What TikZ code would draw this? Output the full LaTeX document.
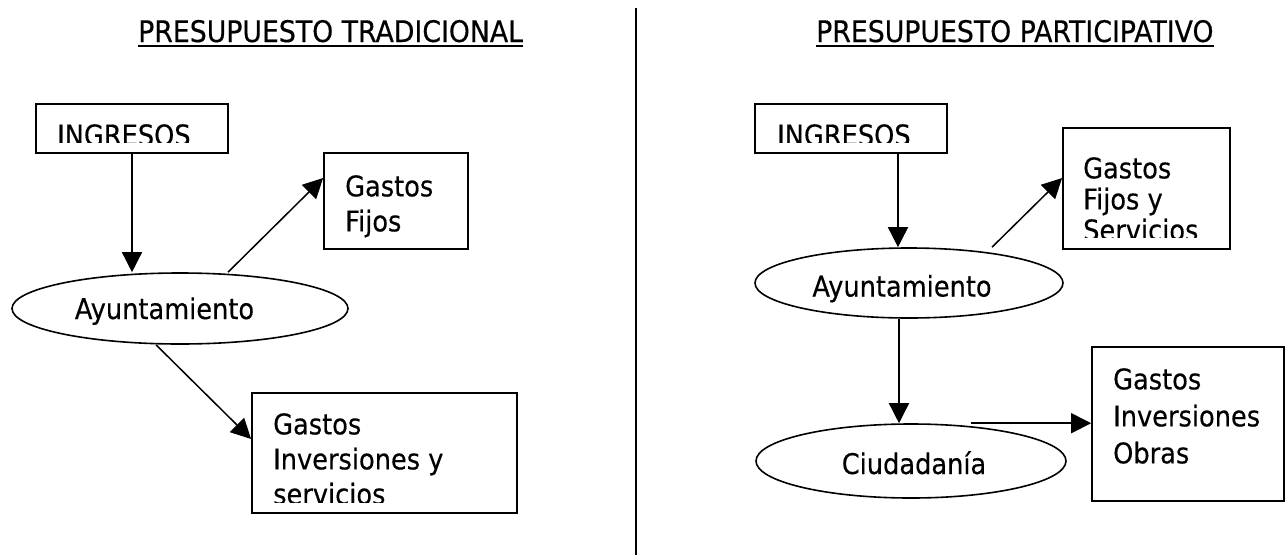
\documentclass[tikz,border=0pt]{standalone}
\usepackage{fontspec}
\setmainfont{DejaVu Sans}[FakeStretch=0.9,FakeBold=0.4]
\usetikzlibrary{arrows.meta,shapes.geometric}
\begin{document}
\begin{tikzpicture}[x=1pt,y=-1pt,
    caja/.style={draw,line width=1.7pt,inner sep=0pt},
    elipse/.style={draw,ellipse,line width=1.6pt,inner sep=0pt},
    flecha/.style={line width=1.5pt,-{Triangle[length=20pt,width=20pt]}},
    txt/.style={inner sep=0pt,align=left,font=\fontsize{28.5}{35}\selectfont},
    titulo/.style={inner sep=0pt,anchor=base west,font=\fontsize{29.7}{36}\selectfont}]

\def\GROSOR{1.6pt}
	\useasboundingbox (0,0) rectangle (1288,555);
	\draw[line width=\GROSOR] (636,8) -- (636,555);

	\node[titulo] (titL) at (138,42) {PRESUPUESTO TRADICIONAL};
	\node[titulo] (titR) at (816,42) {PRESUPUESTO PARTICIPATIVO};
	\draw[line width=\GROSOR] ([yshift=-4pt]titL.base west) -- ([yshift=-4pt]titL.base east);
	\draw[line width=\GROSOR] ([yshift=-4pt]titR.base west) -- ([yshift=-4pt]titR.base east);

	% tradicional
	\begin{scope}
		\clip (36,104) rectangle (228,142.5);
		\node[txt,anchor=north west] (ingL-t) at (57,124) {INGRESOS};
	\end{scope}
	\begin{scope}
		\clip (252,393) rectangle (517,502.3);
		\node[txt,anchor=north west] (invL-t) at (273,413) {Gastos\\Inversiones y\\servicios};
	\end{scope}
	\node[txt,anchor=north west] (fijosL-t) at (345,175) {Gastos\\Fijos};
	\node[txt,anchor=base] (aytoL-t) at (164.5,319) {Ayuntamiento};

	\node[caja,minimum width=192pt,minimum height=49pt] (ingL) at (132,128.5) {};
	\node[caja,minimum width=144pt,minimum height=96pt] (fijosL) at (396,201) {};
	\node[caja,minimum width=265pt,minimum height=120pt] (invL) at (384.5,453) {};
	\node[elipse,minimum width=336pt,minimum height=71pt] (aytoL) at (180,308.5) {};

	\draw[flecha] (ingL.south) -- (ingL.south |- aytoL.north);
	\draw[flecha] ([xshift=48pt]aytoL.north) -- ([yshift=23pt]fijosL.west);
	\draw[flecha] ([xshift=-24pt]aytoL.south) -- ([yshift=14pt]invL.west);

	% participativo
	\begin{scope}
		\clip (755,104) rectangle (947,142.5);
		\node[txt,anchor=north west] (ingR-t) at (777,124) {INGRESOS};
	\end{scope}
	\begin{scope}
		\clip (1063,128) rectangle (1230,237.8);
		\node[txt,anchor=north west,font=\fontsize{28.5}{31}\selectfont] (fijosR-t) at (1083,157) {Gastos\\Fijos y\\Servicios};
	\end{scope}
	\node[txt,anchor=north west,font=\fontsize{28.5}{37}\selectfont] (obras-t) at (1113,368) {Gastos\\Inversiones\\Obras};
	\node[txt,anchor=base] (aytoR-t) at (902,296.5) {Ayuntamiento};
	\node[txt,anchor=base] (ciud-t) at (914,474) {Ciudadanía};

	\node[caja,minimum width=192pt,minimum height=49pt] (ingR) at (851,128.5) {};
	\node[caja,minimum width=167pt,minimum height=121pt] (fijosR) at (1146.5,188.5) {};
	\node[caja,minimum width=192pt,minimum height=154pt] (obras) at (1188,424) {};
	\node[elipse,minimum width=308pt,minimum height=70pt] (aytoR) at (909,283) {};
	\node[elipse,minimum width=310pt,minimum height=74pt] (ciud) at (911,461) {};

	\draw[flecha] ([xshift=47pt]ingR.south) -- ([xshift=47pt]ingR.south |- aytoR.north);
	\draw[flecha] ([xshift=83pt]aytoR.north) -- ([yshift=10.5pt]fijosR.west);
	\draw[flecha] ([xshift=-10pt]aytoR.south) -- ([xshift=-10pt]aytoR.south |- ciud.north);
	\draw[flecha] ([xshift=60pt]ciud.north) -- (ciud.north -| obras.west);

\end{tikzpicture}
\end{document}
